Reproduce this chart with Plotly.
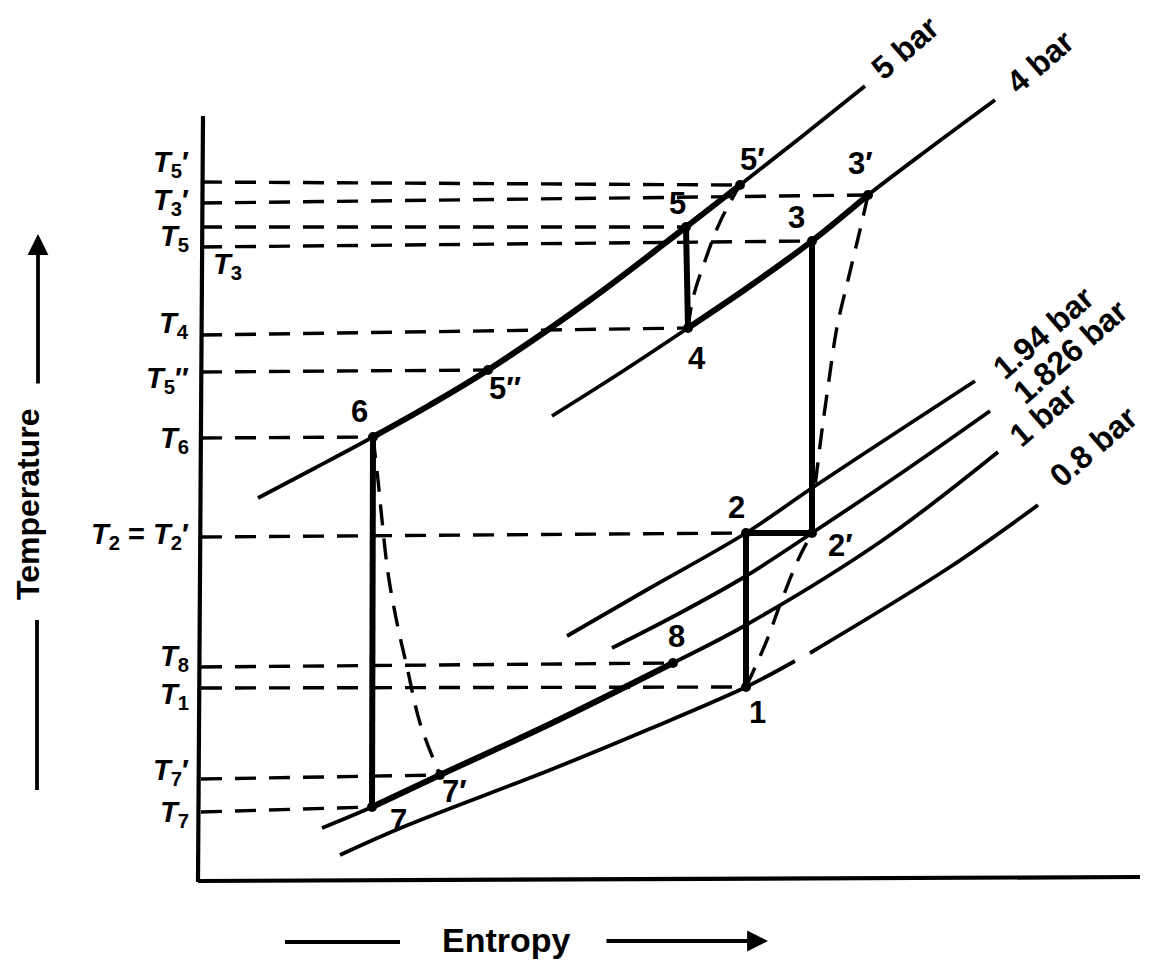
import plotly.graph_objects as go

# ---------------- data (screen units: s to the right, T downward = colder) -------------
state_names = ["1", "2", "2′", "3", "3′", "4", "5", "5′", "5″", "6", "7", "7′", "8"]
state_s = [746, 746, 812, 812, 868, 688, 686, 740, 488, 373, 372, 440, 673]
state_T = [687, 533, 533, 241, 195, 328, 227, 185, 370, 437, 807, 775, 663]

# isobars (control points)
isobar_names = ["5 bar", "4 bar", "1.94 bar", "1.826 bar", "1 bar", "0.8 bar"]
p5_s = [258, 315, 373, 430, 488, 590, 686, 740, 800, 865]
p5_T = [498, 468, 437, 405, 370, 300, 227, 185, 138, 86]
p4_s = [552, 620, 688, 750, 812, 868, 930, 995]
p4_T = [416, 373, 328, 286, 241, 195, 148, 100]
p194_s = [567, 650, 746, 812, 900, 975]
p194_T = [636, 588, 533, 488, 430, 381]
p1826_s = [612, 680, 746, 812, 900, 990]
p1826_T = [648, 613, 576, 533, 474, 411]
p1_s = [322, 372, 440, 550, 673, 746, 883, 998]
p1_T = [828, 807, 775, 724, 663, 625, 540, 452]
p08a_s = [340, 403, 550, 647, 746, 795]
p08a_T = [855, 827, 770, 730, 687, 661]
p08b_s = [810, 950, 1038]
p08b_T = [653, 567, 505]

# irreversible (dashed) process curves
exp67_s = [373, 378, 382, 388, 397, 407, 420, 440]
exp67_T = [437, 480, 520, 573, 623, 667, 723, 775]
comp45_s = [688, 693, 706, 720, 740]
comp45_T = [328, 298, 258, 222, 185]
exp32_s = [868, 860, 848, 837, 829, 822, 817, 814]
exp32_T = [195, 230, 280, 327, 380, 430, 470, 495]
comp12_s = [746, 767, 781, 798, 812]
comp12_T = [687, 640, 602, 560, 533]

# temperature guide lines: label, level on axis, state reached
guide_labels = ["<i>T</i><sub>5</sub>′", "<i>T</i><sub>3</sub>′", "<i>T</i><sub>5</sub>", "<i>T</i><sub>3</sub>",
                "<i>T</i><sub>4</sub>", "<i>T</i><sub>5</sub>″", "<i>T</i><sub>6</sub>",
                "<i>T</i><sub>2</sub> = <i>T</i><sub>2</sub>′", "<i>T</i><sub>8</sub>", "<i>T</i><sub>1</sub>",
                "<i>T</i><sub>7</sub>′", "<i>T</i><sub>7</sub>"]
guide_axis_T = [182, 203, 227, 247, 335, 372, 438, 537, 667, 688, 779, 812]
guide_state = ["5′", "3′", "5", "3", "4", "5″", "6", "2", "8", "1", "7′", "7"]

# ---------------- styles / positions ----------------
AX_X = 201
FONT = "Liberation Sans, Arial, Helvetica, sans-serif"
THIN, THICK, DASHW = 3.8, 6.0, 3.4
DASH = "21px,13px"
label_T_pos = [164, 202, 238, 266, 325, 380, 440, 536, 658, 696, 772, 814]
state_label_off = {"1": (11, 25), "2": (-10, -26), "2′": (28, 12), "3": (-16, -24), "3′": (-8, -32),
                   "4": (9, 30), "5": (-9, -24), "5′": (12, -26), "5″": (17, 18), "6": (-14, -26),
                   "7": (26, 13), "7′": (14, 16), "8": (3, -27)}
isobar_label_off = [(40, -38), (45, -38), (68, -48), (80, -59), (45, -37), (55, -58)]

pt = {n: (s, t) for n, s, t in zip(state_names, state_s, state_T)}

fig = go.Figure()


def add_line(xs, ys, width, dash=None, shape="spline"):
    fig.add_trace(go.Scatter(x=xs, y=ys, mode="lines", hoverinfo="skip",
                             line=dict(color="black", width=width, dash=dash, shape=shape)))


def segment(xs, ys, a, b):
    lo, hi = pt[a][0], pt[b][0]
    sel = [(x, y) for x, y in zip(xs, ys) if lo - 0.5 <= x <= hi + 0.5]
    return [p[0] for p in sel], [p[1] for p in sel]


def tfont(size=29):
    return dict(family=FONT, size=size, color="black")


# axes
add_line([AX_X + 2, AX_X - 3], [116, 882], 4.2, shape="linear")
add_line([AX_X - 3, 1140], [881, 877], 4.2, shape="linear")

# isobars (thin)
isobars = [(p5_s, p5_T), (p4_s, p4_T), (p194_s, p194_T), (p1826_s, p1826_T), (p1_s, p1_T)]
for xs, ys in isobars:
    add_line(xs, ys, THIN)
add_line(p08a_s, p08a_T, THIN)
add_line(p08b_s, p08b_T, THIN)

# thick cycle parts along isobars
for (xs, ys), a, b in [((p5_s, p5_T), "6", "5′"), ((p4_s, p4_T), "4", "3′"), ((p1_s, p1_T), "7", "8")]:
    sx, sy = segment(xs, ys, a, b)
    add_line(sx, sy, THICK)

# thick vertical / horizontal process lines
for a, b in [("6", "7"), ("5", "4"), ("3", "2′"), ("2", "1"), ("2", "2′")]:
    add_line([pt[a][0], pt[b][0]], [pt[a][1], pt[b][1]], THICK, shape="linear")

# dashed process curves
for xs, ys in [(exp67_s, exp67_T), (comp45_s, comp45_T), (exp32_s, exp32_T), (comp12_s, comp12_T)]:
    add_line(xs, ys, DASHW, dash=DASH)

# guide lines
for lev, st in zip(guide_axis_T, guide_state):
    add_line([AX_X, pt[st][0]], [lev, pt[st][1]], DASHW, dash=DASH, shape="linear")

# state markers
fig.add_trace(go.Scatter(x=state_s, y=state_T, mode="markers", hoverinfo="skip",
                         marker=dict(size=10, color="black")))

ann = []
# state labels
for n in state_names:
    dx, dy = state_label_off[n]
    ann.append(dict(x=pt[n][0] + dx, y=pt[n][1] + dy, text="<b>" + n + "</b>", showarrow=False,
                    font=tfont(31), xanchor="center", yanchor="middle"))

# guide labels
for lab, ly, st in zip(guide_labels, label_T_pos, guide_state):
    if st == "3":
        ann.append(dict(x=AX_X + 10, y=ly, text="<b>" + lab + "</b>", showarrow=False, xanchor="left",
                        yanchor="middle", font=tfont(29)))
    else:
        ann.append(dict(x=AX_X - 10, y=ly, text="<b>" + lab + "</b>", showarrow=False, xanchor="right",
                        yanchor="middle", font=tfont(29)))

# isobar labels
ends = [(p5_s[-1], p5_T[-1]), (p4_s[-1], p4_T[-1]), (p194_s[-1], p194_T[-1]),
        (p1826_s[-1], p1826_T[-1]), (p1_s[-1], p1_T[-1]), (p08b_s[-1], p08b_T[-1])]
for name, (ex, ey), (dx, dy) in zip(isobar_names, ends, isobar_label_off):
    ann.append(dict(x=ex + dx, y=ey + dy, text="<b>" + name + "</b>", showarrow=False, textangle=-41,
                    font=tfont(32), xanchor="center", yanchor="middle"))

# axis titles with arrows
ann.append(dict(x=28, y=505, text="<b>Temperature</b>", showarrow=False, textangle=-90, font=tfont(32)))
ann.append(dict(x=506, y=940, text="<b>Entropy</b>", showarrow=False, font=tfont(34)))
ann.append(dict(x=38, y=234, ax=38, ay=385, xref="x", yref="y", axref="x", ayref="y", text="",
                showarrow=True, arrowhead=2, arrowsize=1.1, arrowwidth=3.8, arrowcolor="black"))
ann.append(dict(x=768, y=941, ax=605, ay=941, xref="x", yref="y", axref="x", ayref="y", text="",
                showarrow=True, arrowhead=2, arrowsize=1.1, arrowwidth=3.8, arrowcolor="black"))
add_line([37, 37], [620, 790], 3.8, shape="linear")
add_line([285, 400], [942, 942], 3.8, shape="linear")

fig.update_layout(width=1153, height=967, margin=dict(l=0, r=0, t=0, b=0),
                  paper_bgcolor="white", plot_bgcolor="white", showlegend=False,
                  annotations=ann,
                  xaxis=dict(range=[0, 1153], visible=False, fixedrange=True),
                  yaxis=dict(range=[967, 0], visible=False, fixedrange=True))

fig.write_html("out.html", config={"displayModeBar": False},
               post_script="document.body.style.margin='0';document.body.style.overflow='hidden';")
